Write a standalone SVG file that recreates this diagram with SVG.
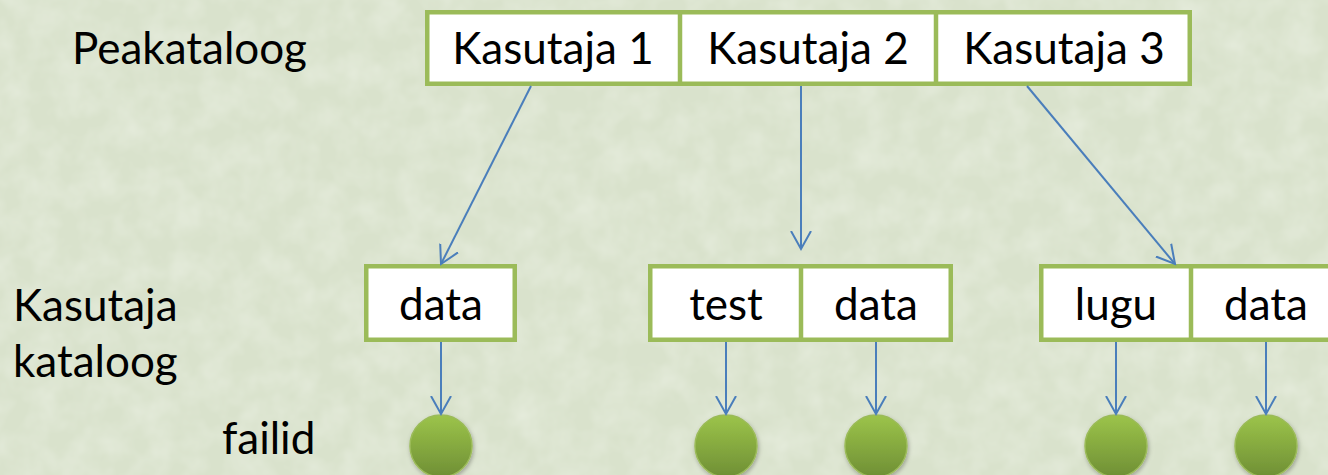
<svg xmlns="http://www.w3.org/2000/svg" width="1328" height="475" viewBox="0 0 1328 475">
  <style>
    .lbl { font-family: Lato, "Open Sans", "Liberation Sans", sans-serif; font-size: 44px; fill: #000; }
    .mid { text-anchor: middle; }
    .box { fill: #fff; stroke: #9bbb59; stroke-width: 4.5; }
    .div { stroke: #9bbb59; stroke-width: 4.5; }
    .con { stroke: #4a7ebb; stroke-width: 2; fill: none; marker-end: url(#arrow); }
    .file { fill: url(#ballGrad); stroke: #9bbb59; stroke-width: 1.5; filter: url(#shadow); }
  </style>
  <defs>
    <marker id="arrow" markerUnits="userSpaceOnUse" markerWidth="24" markerHeight="24" refX="18" refY="10" orient="auto" viewBox="0 0 24 20">
      <path d="M0,0 L18,10 L0,20" fill="none" stroke="#4a7ebb" stroke-width="2"/>
    </marker>
    <linearGradient id="ballGrad" x1="0" y1="0" x2="0" y2="1">
      <stop offset="0" stop-color="#9cc44a"/>
      <stop offset="1" stop-color="#6f8f35"/>
    </linearGradient>
    <filter id="shadow" x="-30%" y="-30%" width="160%" height="160%">
      <feDropShadow dx="1" dy="2" stdDeviation="2" flood-color="#000" flood-opacity="0.3"/>
    </filter>
    <filter id="grain" x="0" y="0" width="100%" height="100%">
      <feTurbulence type="fractalNoise" baseFrequency="0.035" numOctaves="3" seed="7"/>
      <feColorMatrix type="matrix" values="0 0 0 0 0.95  0 0 0 0 0.97  0 0 0 0 0.92  0 0 0 0.55 -0.18"/>
    </filter>
  </defs>

  <!-- paper background -->
  <rect width="1328" height="475" fill="#d9e2cc"/>
  <rect width="1328" height="475" filter="url(#grain)"/>

  <!-- row labels -->
  <g id="row-labels">
    <text class="lbl" x="72" y="64">Peakataloog</text>
    <text class="lbl" x="13" y="321">Kasutaja</text>
    <text class="lbl" x="13" y="377">kataloog</text>
    <text class="lbl" x="222" y="454">failid</text>
  </g>

  <!-- root directory -->
  <g id="root">
    <rect class="box" x="427.25" y="12.25" width="762.5" height="71.5"/>
    <line class="div" x1="680" y1="12" x2="680" y2="84"/>
    <line class="div" x1="936" y1="12" x2="936" y2="84"/>
    <text class="lbl mid" x="553" y="64">Kasutaja 1</text>
    <text class="lbl mid" x="808" y="64">Kasutaja 2</text>
    <text class="lbl mid" x="1064" y="64">Kasutaja 3</text>
  </g>

  <!-- user 1 directory -->
  <g id="user1">
    <rect class="box" x="366.25" y="266.25" width="148.5" height="73.5"/>
    <text class="lbl mid" x="441" y="320">data</text>
  </g>

  <!-- user 2 directory -->
  <g id="user2">
    <rect class="box" x="650.25" y="266.25" width="300.5" height="73.5"/>
    <line class="div" x1="801" y1="266" x2="801" y2="340"/>
    <text class="lbl mid" x="726" y="320">test</text>
    <text class="lbl mid" x="876" y="320">data</text>
  </g>

  <!-- user 3 directory -->
  <g id="user3">
    <rect class="box" x="1041.25" y="266.25" width="300.5" height="73.5"/>
    <line class="div" x1="1191" y1="266" x2="1191" y2="340"/>
    <text class="lbl mid" x="1116" y="320">lugu</text>
    <text class="lbl mid" x="1266" y="320">data</text>
  </g>

  <!-- files -->
  <g id="file1"><circle class="file" cx="441" cy="446" r="31"/></g>
  <g id="file2"><circle class="file" cx="726" cy="446" r="31"/></g>
  <g id="file3"><circle class="file" cx="876" cy="446" r="31"/></g>
  <g id="file4"><circle class="file" cx="1116" cy="446" r="31"/></g>
  <g id="file5"><circle class="file" cx="1266" cy="446" r="31"/></g>

  <!-- connectors -->
  <g id="connectors">
    <line class="con" x1="531" y1="86" x2="441" y2="264"/>
    <line class="con" x1="801" y1="86" x2="801" y2="249"/>
    <line class="con" x1="1027" y1="86" x2="1175" y2="264"/>
    <line class="con" x1="441" y1="342" x2="441" y2="414"/>
    <line class="con" x1="726" y1="342" x2="726" y2="414"/>
    <line class="con" x1="876" y1="342" x2="876" y2="414"/>
    <line class="con" x1="1116" y1="342" x2="1116" y2="414"/>
    <line class="con" x1="1266" y1="342" x2="1266" y2="414"/>
  </g>
</svg>
